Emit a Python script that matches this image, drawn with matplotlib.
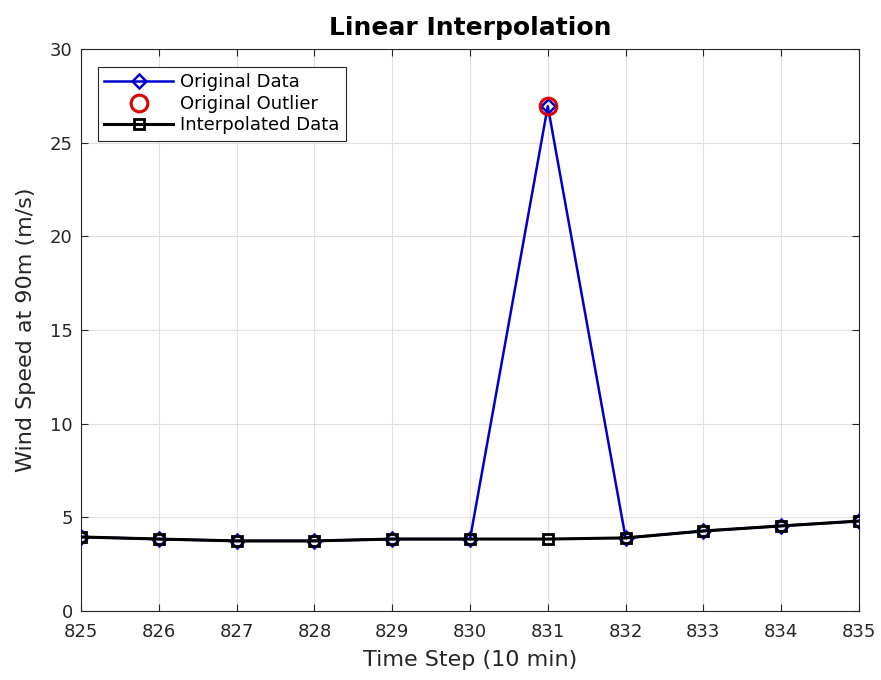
import matplotlib
matplotlib.use("Agg")
import matplotlib.pyplot as plt

time_steps = [825, 826, 827, 828, 829, 830, 831, 832, 833, 834, 835]
original = [3.95, 3.84, 3.74, 3.74, 3.84, 3.84, 26.95, 3.90, 4.27, 4.54, 4.80]
interpolated = [3.95, 3.84, 3.74, 3.74, 3.84, 3.84, 3.84, 3.90, 4.27, 4.54, 4.80]
outlier_x = [831]
outlier_y = [26.95]

fig = plt.figure(figsize=(8.81, 6.80), dpi=100)
ax = fig.add_axes([0.092, 0.1015, 0.883, 0.8265])

ax.plot(time_steps, original, color="#0000cc", lw=1.8, marker="D", ms=7,
        mfc="none", mec="#0000cc", mew=1.8, label="Original Data", zorder=3)
ax.plot(outlier_x, outlier_y, ls="none", marker="o", ms=12, mfc="none",
        mec="#dd0000", mew=2.2, label="Original Outlier", zorder=4)
ax.plot(time_steps, interpolated, color="black", lw=2.2, marker="s", ms=7,
        mfc="none", mec="black", mew=2, label="Interpolated Data", zorder=5)

ax.set_xlim(825, 835)
ax.set_ylim(0, 30)
ax.set_xticks(range(825, 836))
ax.set_yticks(range(0, 31, 5))
ax.grid(True, color="#e0e0e0", lw=0.8)
ax.set_axisbelow(True)
ax.tick_params(direction="in", labelsize=13, colors="#262626", length=5,
               top=True, right=True)
ax.tick_params(axis="x", pad=9)
ax.tick_params(axis="y", pad=6)
for s in ax.spines.values():
    s.set_color("#262626")
    s.set_linewidth(0.8)

ax.set_xlabel("Time Step (10 min)", fontsize=16, color="#262626", labelpad=6)
ax.set_ylabel("Wind Speed at 90m (m/s)", fontsize=16, color="#262626", labelpad=10)
ax.set_title("Linear Interpolation", fontsize=18, fontweight="bold", pad=10)

leg = ax.legend(loc="upper left", bbox_to_anchor=(0.022, 0.968), fontsize=13,
                fancybox=False, framealpha=1, edgecolor="#262626",
                borderpad=0.35, labelspacing=0.2, handlelength=3.8,
                handletextpad=0.4, borderaxespad=0)
leg.get_frame().set_linewidth(0.8)

fig.savefig("out.png", dpi=100)
